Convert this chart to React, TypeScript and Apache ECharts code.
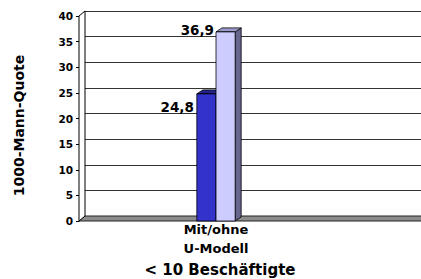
import React, { useEffect, useRef } from "react";
import * as echarts from "echarts";

const categories = ["Mit/ohne\nU-Modell"];
const mitValues = [24.8];
const ohneValues = [36.9];
const yTicks = { min: 0, max: 40, interval: 5 };
const yTitle = "1000-Mann-Quote";
const xTitle = "< 10 Beschäftigte";

const FONT = "'DejaVu Sans', 'Liberation Sans', Arial, sans-serif";
const WALL_DX = 6;
const WALL_DY = 5;
const BAR_DX = 6;
const BAR_DY = 4;

function fmt(v: number) {
  return v.toFixed(1).replace(".", ",");
}

function barRender(
  idx: number,
  front: string,
  topC: string,
  side: string,
  lblDx: number,
  lblDy: number
) {
  return (params: any, api: any) => {
    const cat = api.value(0);
    const v = api.value(1);
    const base = api.coord([cat, 0]);
    const top = api.coord([cat, v]);
    const catW = api.size([1, 0])[0];
    const bw = catW * 0.07;
    const x0 = base[0] + (idx === 0 ? -bw : 0);
    const by = base[1];
    const ty = top[1];
    const stroke = { stroke: "#000", lineWidth: 0.8 };
    return {
      type: "group",
      children: [
        {
          type: "polygon",
          shape: {
            points: [
              [x0 + bw, ty],
              [x0 + bw + BAR_DX, ty - BAR_DY],
              [x0 + bw + BAR_DX, by - BAR_DY],
              [x0 + bw, by],
            ],
          },
          style: { fill: side, ...stroke },
        },
        {
          type: "polygon",
          shape: {
            points: [
              [x0, ty],
              [x0 + bw, ty],
              [x0 + bw + BAR_DX, ty - BAR_DY],
              [x0 + BAR_DX, ty - BAR_DY],
            ],
          },
          style: { fill: topC, ...stroke },
        },
        {
          type: "rect",
          shape: { x: x0, y: ty, width: bw, height: by - ty },
          style: { fill: front, ...stroke },
        },
        {
          type: "text",
          style: {
            text: fmt(v),
            x: x0 + lblDx,
            y: ty + lblDy,
            align: "right",
            verticalAlign: "middle",
            fontFamily: FONT,
            fontWeight: "bold",
            fontSize: 13.5,
            fill: "#000",
          },
        },
      ],
    };
  };
}

export default function App() {
  const ref = useRef<HTMLDivElement>(null);
  useEffect(() => {
    if (!ref.current) return;
    const chart = echarts.init(ref.current, undefined, { renderer: "svg" });
    chart.setOption({
      animation: false,
      backgroundColor: "#fff",
      grid: [
        { left: 79, top: 16, height: 205, width: 274, containLabel: false, outerBoundsMode: "none" },
        {
          left: 79 + WALL_DX,
          top: 16 - WALL_DY,
          height: 205,
          right: -40,
          containLabel: false,
          outerBoundsMode: "none",
        },
      ],
      xAxis: [
        {
          type: "category",
          gridIndex: 0,
          data: categories,
          axisLine: { show: false },
          axisTick: { show: false },
          axisLabel: {
            fontFamily: FONT,
            fontWeight: "bold",
            fontSize: 13,
            color: "#000",
            lineHeight: 19,
            margin: -1,
          },
          name: xTitle,
          nameLocation: "middle",
          nameGap: 39,
          nameTextStyle: {
            fontFamily: FONT,
            fontWeight: "bold",
            fontSize: 15,
            color: "#000",
            padding: [0, 0, 0, 8],
          },
        },
        { type: "value", gridIndex: 1, min: 0, max: 1, show: false },
      ],
      yAxis: [
        {
          type: "value",
          gridIndex: 0,
          min: yTicks.min,
          max: yTicks.max,
          interval: yTicks.interval,
          splitLine: { show: false },
          axisLine: { show: true, lineStyle: { color: "#000", width: 1 } },
          axisTick: { show: true, length: 3, lineStyle: { color: "#000" } },
          axisLabel: {
            fontFamily: FONT,
            fontWeight: "bold",
            fontSize: 10.5,
            color: "#000",
            margin: 6,
          },
          name: yTitle,
          nameLocation: "middle",
          nameRotate: 90,
          nameGap: 53,
          nameTextStyle: {
            fontFamily: FONT,
            fontWeight: "bold",
            fontSize: 14,
            color: "#000",
            padding: [0, 14, 0, 0],
          },
        },
        {
          type: "value",
          gridIndex: 1,
          min: yTicks.min,
          max: yTicks.max,
          interval: yTicks.interval,
          axisLine: { show: false },
          axisTick: { show: false },
          axisLabel: { show: false },
          splitLine: { show: true, lineStyle: { color: "#333", width: 1 } },
        },
      ],
      series: [
        {
          type: "custom",
          xAxisIndex: 1,
          yAxisIndex: 1,
          z: 1,
          data: [[0, 0]],
          renderItem: (params: any, api: any) => {
            const bl = api.coord([0, 0]);
            const br = api.coord([1, 0]);
            const tl = api.coord([0, yTicks.max]);
            return {
              type: "group",
              children: [
                {
                  type: "polygon",
                  shape: {
                    points: [
                      [bl[0], bl[1]],
                      [br[0], br[1]],
                      [br[0] - WALL_DX, br[1] + WALL_DY],
                      [bl[0] - WALL_DX, bl[1] + WALL_DY],
                    ],
                  },
                  style: { fill: "#8c8c8c", stroke: "#222", lineWidth: 1 },
                },
                {
                  type: "polygon",
                  shape: {
                    points: [
                      [bl[0] - WALL_DX, bl[1] + WALL_DY],
                      [tl[0] - WALL_DX, tl[1] + WALL_DY],
                      [tl[0], tl[1]],
                      [bl[0], bl[1]],
                    ],
                  },
                  style: { fill: "#fff", stroke: "#000", lineWidth: 1 },
                },
              ],
            };
          },
        },
        {
          type: "custom",
          name: "Mit",
          xAxisIndex: 0,
          yAxisIndex: 0,
          z: 3,
          data: mitValues.map((v, i) => [i, v]),
          renderItem: barRender(0, "#3333cc", "#22228a", "#1a1a66", -3, 13),
        },
        {
          type: "custom",
          name: "Ohne",
          xAxisIndex: 0,
          yAxisIndex: 0,
          z: 4,
          data: ohneValues.map((v, i) => [i, v]),
          renderItem: barRender(1, "#ccccff", "#9a9acc", "#66668f", -2, -1.5),
        },
      ],
    });
    return () => chart.dispose();
  }, []);
  return (
    <div
      ref={ref}
      style={{ position: "fixed", left: 0, top: 0, width: 421, height: 279 }}
    />
  );
}
